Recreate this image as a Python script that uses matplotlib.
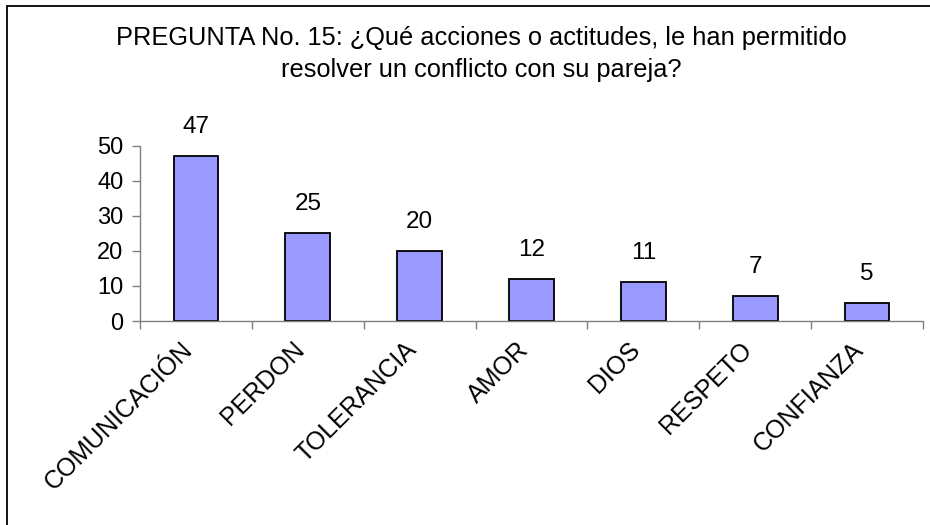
import matplotlib
matplotlib.use("Agg")
import matplotlib.pyplot as plt
import matplotlib.transforms as mtransforms
from matplotlib.patches import Rectangle

categories = ["COMUNICACIÓN", "PERDON", "TOLERANCIA", "AMOR", "DIOS", "RESPETO", "CONFIANZA"]
values = [47, 25, 20, 12, 11, 7, 5]
yticks = [0, 10, 20, 30, 40, 50]
title_lines = ["PREGUNTA No. 15: ¿Qué acciones o actitudes, le han permitido",
               "resolver un conflicto con su pareja?"]

plt.rcParams['font.family'] = ['Liberation Sans', 'DejaVu Sans']

W, H = 930, 525
fig = plt.figure(figsize=(W / 100, H / 100), dpi=100)

# outer chart border (extends beyond right/bottom edge)
fig.patches.append(Rectangle((7 / W, -0.05), 1.2, 1 - 5.5 / H + 0.05,
                             transform=fig.transFigure, fill=False,
                             edgecolor='black', linewidth=1.3))

ax = fig.add_axes([140 / W, (H - 321) / H, 783 / W, 175.3 / H])
x = list(range(len(categories)))
bars = ax.bar(x, values, width=0.40, color='#9999FF', edgecolor='black', linewidth=1.3)
ax.bar_label(bars, padding=13, fontsize=17.5)

ax.set_xlim(-0.5, len(categories) - 0.5)
ax.set_ylim(0, 50)
ax.set_yticks(yticks)
ax.set_yticklabels([str(t) for t in yticks], fontsize=17)
ax.tick_params(axis='y', length=6, width=1, color='#808080', pad=6, direction='out')

ax.set_xticks(x)
ax.set_xticklabels(categories, rotation=45, ha='right', va='center',
                   rotation_mode='anchor', fontsize=18)
ax.tick_params(axis='x', which='major', length=0, pad=18)
offset = mtransforms.ScaledTranslation(-7 / 100, 0, fig.dpi_scale_trans)
for lbl in ax.get_xticklabels():
    lbl.set_transform(lbl.get_transform() + offset)
ax.set_xticks([i - 0.5 for i in range(len(categories) + 1)], minor=True)
ax.tick_params(axis='x', which='minor', length=6, width=1, color='#808080', direction='out')

for s in ['top', 'right']:
    ax.spines[s].set_visible(False)
for s in ['left', 'bottom']:
    ax.spines[s].set_color('#808080')
    ax.spines[s].set_linewidth(1)
ax.set_zorder(1)

fig.text(481 / W, 1 - 45 / H, title_lines[0], ha='center', va='baseline', fontsize=18.3)
fig.text(481 / W, 1 - 77 / H, title_lines[1], ha='center', va='baseline', fontsize=18.3)

fig.savefig("out.png", dpi=100)
